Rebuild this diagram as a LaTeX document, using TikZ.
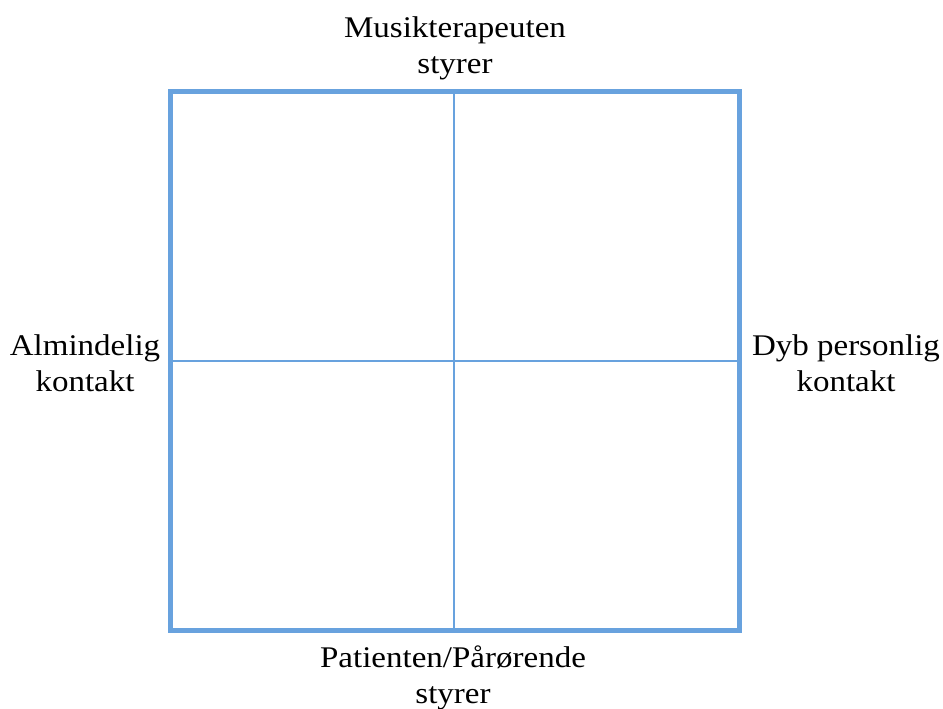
\documentclass[tikz,border=0pt]{standalone}
\usepackage{fontspec}
\setmainfont{Liberation Serif}[FakeStretch=1.1]
\definecolor{frameblue}{RGB}{104,162,222}
\begin{document}
\begin{tikzpicture}[x=1pt,y=-1pt,
  lbl/.style={align=center,font=\fontsize{30}{36}\selectfont,inner sep=0pt}]
\useasboundingbox (0,0) rectangle (943,709);
\coordinate (tl) at (170.5,91.5);
\coordinate (br) at (739.5,630.5);
\coordinate (tm) at (454,91.5);
\coordinate (bm) at (454,630.5);
\coordinate (lm) at (170.5,361);
\coordinate (rm) at (739.5,361);
\draw[frameblue,line width=1.5pt] (tm) -- (bm);
\draw[frameblue,line width=1.5pt] (lm) -- (rm);
\draw[frameblue,line width=5pt] (tl) rectangle (br);
\node[lbl] (top) at (455,48) {Musikterapeuten\\styrer};
\node[lbl] (left) at (85,363) {Almindelig\\kontakt};
\node[lbl] (right) at (846,363) {Dyb personlig\\kontakt};
\node[lbl] (bottom) at (453,678) {Patienten/Pårørende\\styrer};
\end{tikzpicture}
\end{document}
